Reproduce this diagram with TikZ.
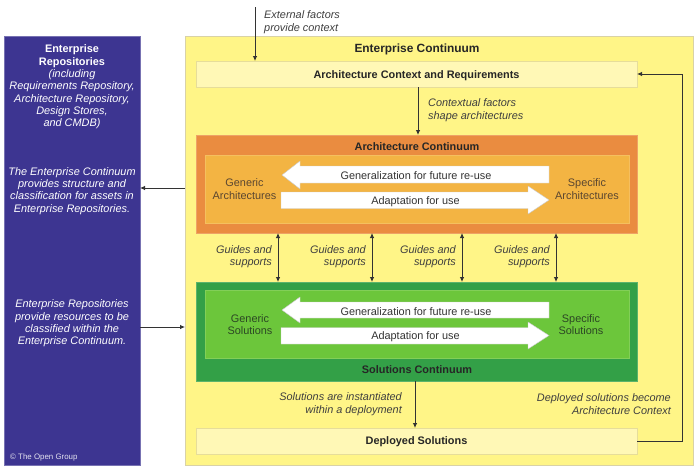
\documentclass[tikz,border=0pt]{standalone}
\usepackage{fontspec}
\setmainfont{Liberation Sans}
\usetikzlibrary{arrows.meta,calc}
\definecolor{repblue}{HTML}{3D3591}
\definecolor{ecyellow}{HTML}{FFF587}
\definecolor{ecborder}{HTML}{D9D2A6}
\definecolor{boxyellow}{HTML}{FFF8B6}
\definecolor{boxborder}{HTML}{E6DD9A}
\definecolor{orangeout}{HTML}{EA8C40}
\definecolor{orangein}{HTML}{F3B443}
\definecolor{greenout}{HTML}{33A047}
\definecolor{greenin}{HTML}{6CC63B}
\definecolor{linegray}{HTML}{333333}
\definecolor{notegray}{HTML}{3F3F3F}
\definecolor{browntext}{HTML}{5A4630}
\definecolor{greentext}{HTML}{2C4724}
\definecolor{arrowedge}{HTML}{C8C8C8}
\tikzset{
  arr/.style={draw=linegray, line width=0.8pt, -{Latex[length=5pt,width=4.5pt]}},
  dblarr/.style={draw=linegray, line width=0.8pt, {Latex[length=5pt,width=4.5pt]}-{Latex[length=5pt,width=4.5pt]}},
  note/.style={font=\fontsize{10.9}{12.3}\selectfont\itshape, text=notegray, inner sep=0pt, yshift=-1.2pt},
  reptext/.style={font=\fontsize{10.9}{12.3}\selectfont\itshape, text=white, align=center, inner sep=0pt, yshift=-1.5pt},
  boxtitle/.style={font=\fontsize{10.9}{12}\selectfont\bfseries, text=black!85, inner sep=0pt, yshift=-1.2pt},
  endtext/.style={font=\fontsize{10.9}{12.3}\selectfont, align=center, inner sep=0pt, yshift=-1.2pt},
  arrtext/.style={font=\fontsize{10.9}{12}\selectfont, text=black!80, inner sep=0pt, yshift=-1pt},
  whitearrow/.style={fill=white, draw=arrowedge, line width=0.4pt},
  area/.style={anchor=north west, inner sep=0pt, outer sep=0pt},
}
\begin{document}
\begin{tikzpicture}[x=1pt,y=-1pt]
\useasboundingbox (0,0) rectangle (700,471);
% Repository column
\node[area, fill=repblue, draw=repblue!70!white, line width=0.5pt, minimum width=136pt, minimum height=429pt] (rep) at (4,36) {};
\node[reptext] (reptitle) at (72,85.5) {\textbf{\upshape Enterprise}\\\textbf{\upshape Repositories}\\(including\\Requirements Repository,\\Architecture Repository,\\Design Stores,\\and CMDB)};
\node[reptext] (repstruct) at (72,189.5) {The Enterprise Continuum\\provides structure and\\classification for assets in\\Enterprise Repositories.};
\node[reptext] (repres) at (72,322) {Enterprise Repositories\\provide resources to be\\classified within the\\Enterprise Continuum.};
\node[anchor=west, inner sep=0pt, text=white!85!repblue, font=\fontsize{7.9}{9}\selectfont] (copy) at (10,457.5) {\textcopyright{} The Open Group};
% Enterprise Continuum
\node[area, fill=ecyellow, draw=ecborder, line width=0.6pt, minimum width=508pt, minimum height=429pt] (ec) at (185,36) {};
\node[boxtitle, font=\fontsize{11.9}{13}\selectfont\bfseries] (ectitle) at (417,48.5) {Enterprise Continuum};
% Architecture Context
\node[area, fill=boxyellow, draw=boxborder, line width=0.6pt, minimum width=441pt, minimum height=26pt] (ctx) at (196,61) {};
\node[boxtitle] (ctxlabel) at (416.5,74) {Architecture Context and Requirements};
% Architecture Continuum
\node[area, fill=orangeout, draw=orangeout!80!white, line width=0.5pt, minimum width=441pt, minimum height=98pt] (arch) at (196,135) {};
\node[area, fill=orangein, draw=orangein!85!white, line width=0.5pt, minimum width=424pt, minimum height=68pt] (archin) at (205,155) {};
\node[boxtitle] (archtitle) at (417,145.5) {Architecture Continuum};
\node[endtext, text=browntext] (genarch) at (244.5,188) {Generic\\Architectures};
\node[endtext, text=browntext] (specarch) at (587,188) {Specific\\Architectures};
\path[whitearrow] (282,175) -- (300,161) -- (300,166) -- (549,166) -- (549,183) -- (300,183) -- (300,189) -- cycle;
\node[arrtext] (archgen) at (416,175) {Generalization for future re-use};
\path[whitearrow] (281,192) -- (528,192) -- (528,186) -- (549,200) -- (528,214) -- (528,208.5) -- (281,208.5) -- cycle;
\node[arrtext] (archadapt) at (415.5,200.5) {Adaptation for use};
% Solutions Continuum
\node[area, fill=greenout, draw=greenout!80!white, line width=0.5pt, minimum width=441pt, minimum height=99pt] (sol) at (196,282) {};
\node[area, fill=greenin, draw=greenin!85!white, line width=0.5pt, minimum width=424pt, minimum height=68pt] (solin) at (205,290) {};
\node[boxtitle] (soltitle) at (417,368.5) {Solutions Continuum};
\node[endtext, text=greentext] (gensol) at (250,323.5) {Generic\\Solutions};
\node[endtext, text=greentext] (specsol) at (581,323.5) {Specific\\Solutions};
\path[whitearrow] (282,310) -- (300,297) -- (300,302) -- (549,302) -- (549,318) -- (300,318) -- (300,323) -- cycle;
\node[arrtext] (solgen) at (416,310.5) {Generalization for future re-use};
\path[whitearrow] (281,327.5) -- (528,327.5) -- (528,322) -- (549,335.5) -- (528,349) -- (528,344) -- (281,344) -- cycle;
\node[arrtext] (soladapt) at (415.5,336) {Adaptation for use};
% Deployed Solutions
\node[area, fill=boxyellow, draw=boxborder, line width=0.6pt, minimum width=441pt, minimum height=26pt] (dep) at (196,428) {};
\node[boxtitle] (deplabel) at (416.5,440.5) {Deployed Solutions};
% helper coordinates
\coordinate (xext) at (255,7);
\coordinate (xctx) at (418,0);
\coordinate (xdep) at (415,0);
\coordinate (xfb) at (682,0);
\coordinate (g1) at (278,0);
\coordinate (g2) at (372,0);
\coordinate (g3) at (462,0);
\coordinate (g4) at (556,0);
\coordinate (yleft) at (0,188);
\coordinate (yright) at (0,327);
% connectors
\draw[arr] (xext) -- (xext |- ctx.north);
\node[note, anchor=west, align=left] (extnote) at (264,21) {External factors\\provide context};
\draw[arr] (ctx.south -| xctx) -- (arch.north -| xctx);
\node[note, anchor=west, align=left] (ctxnote) at (428,109) {Contextual factors\\shape architectures};
\foreach \g in {g1,g2,g3,g4}{
  \draw[dblarr] (arch.south -| \g) -- (sol.north -| \g);
}
\node[note, anchor=east, align=right] (gnote1) at ($(g1 |- 0,255.5)+(-6,0)$) {Guides and\\supports};
\node[note, anchor=east, align=right] (gnote2) at ($(g2 |- 0,255.5)+(-6,0)$) {Guides and\\supports};
\node[note, anchor=east, align=right] (gnote3) at ($(g3 |- 0,255.5)+(-6,0)$) {Guides and\\supports};
\node[note, anchor=east, align=right] (gnote4) at ($(g4 |- 0,255.5)+(-6,0)$) {Guides and\\supports};
\draw[arr] (sol.south -| xdep) -- (dep.north -| xdep);
\node[note, anchor=east, align=right] (instnote) at (402,403) {Solutions are instantiated\\within a deployment};
\draw[arr] (dep.east) -- (dep.east -| xfb) -- (ctx.east -| xfb) -- (ctx.east);
\node[note, anchor=east, align=right] (fbnote) at (671,403) {Deployed solutions become\\Architecture Context};
\draw[arr] (ec.west |- yleft) -- (rep.east |- yleft);
\draw[arr] (rep.east |- yright) -- (ec.west |- yright);
\end{tikzpicture}
\end{document}
